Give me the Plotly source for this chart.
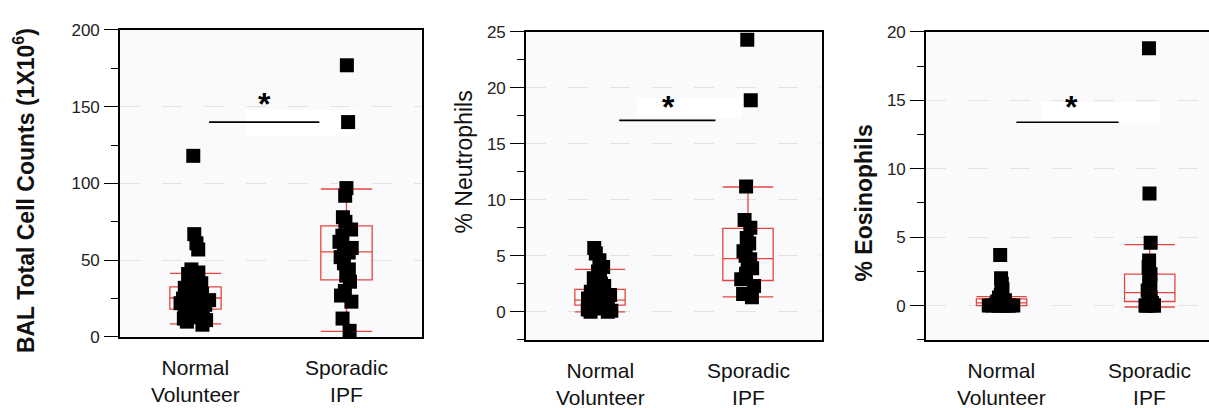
import plotly.graph_objects as go

# ---- data -------------------------------------------------------------
groups = ["Normal<br>Volunteer", "Sporadic<br>IPF"]

# BAL total cell counts (x10^6)
bal_normal = [118, 67, 61, 57, 44, 42, 41, 39, 37, 35, 34, 33, 32, 31, 30,
              28, 27, 26, 25, 25, 24, 23, 22, 21, 20, 19, 18, 17, 16, 15,
              14, 13, 12, 11, 10, 8]
bal_ipf = [177, 140, 97, 92, 78, 75, 70, 66, 62, 58, 56, 55, 52, 48, 44,
           40, 36, 30, 27, 23, 12, 4]

# % neutrophils
neu_normal = [5.7, 5.2, 4.6, 4.0, 3.6, 3.3, 3.0, 2.7, 2.5, 2.3, 2.1, 1.9,
              1.8, 1.6, 1.5, 1.3, 1.2, 1.1, 1.0, 0.9, 0.8, 0.7, 0.6, 0.5,
              0.4, 0.3, 0.2, 0.1, 0.0, 0.0]
neu_ipf = [24.3, 18.9, 11.2, 8.2, 7.5, 6.6, 6.1, 5.4, 5.0, 4.7, 4.3, 3.9,
           3.4, 2.9, 2.3, 1.6, 1.3]

# % eosinophils
eos_normal = [3.7, 2.0, 1.6, 1.2, 1.0, 0.8, 0.6, 0.5, 0.4, 0.3, 0.3, 0.2,
              0.2, 0.1, 0.1, 0, 0, 0, 0, 0, 0, 0, 0, 0]
eos_ipf = [18.8, 8.2, 4.6, 3.3, 2.8, 2.3, 1.9, 1.5, 1.1, 0.9, 0.6, 0.4,
           0.2, 0, 0, 0, 0, 0]

# box summaries per group: lower whisker, Q1, median, Q3, upper whisker
bal_box = [[8.5, 18.2, 25.4, 32.7, 41.4], [3.7, 37.2, 55.4, 72.4, 96.4]]
neu_box = [[0.0, 0.6, 1.05, 2.0, 3.8], [1.33, 2.8, 4.75, 7.45, 11.15]]
eos_box = [[0.0, 0.0, 0.2, 0.5, 0.65], [-0.1, 0.3, 0.95, 2.3, 4.45]]

y_titles = ["<b>BAL Total Cell Counts (1X10<sup>6</sup>)</b>",
            "% Neutrophils",
            "<b>% Eosinophils</b>"]
sig_label = "*"

# ---- figure layout constants -----------------------------------------
W, H = 1209, 408
RED = "#e8453c"
FONT = "Liberation Sans, Arial, sans-serif"
JITTER = [0.6, 0.32]   # sideways spread for each group's points

panels = [
    dict(vals=[bal_normal, bal_ipf], box=bal_box, yrange=[0, 200], dtick=50,
         xrange=[-0.5, 1.5], px=(120, 422), py=(22, 344), mirror_y=True,
         title_xy=(24, 191),
         sig=dict(x0=0.09, x1=0.82, y=140, sx=0.46, sy=151.5,
                  patch=(0.33, 1.06, 131, 148))),
    dict(vals=[neu_normal, neu_ipf], box=neu_box, yrange=[-2.5, 25], dtick=5,
         xrange=[-0.5, 1.5], px=(526, 822), py=(24, 347), mirror_y=True,
         title_xy=(464, 161),
         sig=dict(x0=0.13, x1=0.78, y=17.1, sx=0.466, sy=18.3,
                  patch=(0.25, 0.96, 17.3, 19.1))),
    dict(vals=[eos_normal, eos_ipf], box=eos_box, yrange=[-2.5, 20], dtick=5,
         xrange=[-0.51, 1.40], px=(926, 1209), py=(24, 347), mirror_y=False,
         title_xy=(863, 204),
         sig=dict(x0=0.10, x1=0.79, y=13.4, sx=0.47, sy=14.5,
                  patch=(0.27, 1.07, 13.3, 14.9))),
]

fig = go.Figure()
shapes, annotations = [], []
layout = dict(
    width=W, height=H, margin=dict(l=0, r=0, t=0, b=0),
    paper_bgcolor="white", plot_bgcolor="#fafafd",
    showlegend=False, boxmode="overlay",
    font=dict(family=FONT, color="#111"),
)

for k, p in enumerate(panels):
    sfx = "" if k == 0 else str(k + 1)
    xa, ya = "x" + sfx, "y" + sfx

    for i, (vals, st) in enumerate(zip(p["vals"], p["box"])):
        lo, q1, med, q3, hi = st
        # outlined box with capped whiskers
        fig.add_trace(go.Box(
            x=[i], q1=[q1], median=[med], q3=[q3],
            lowerfence=[lo], upperfence=[hi],
            width=0.34, whiskerwidth=1, boxpoints=False,
            line=dict(color=RED, width=1.3), fillcolor="rgba(0,0,0,0)",
            xaxis=xa, yaxis=ya, hoverinfo="skip",
        ))
        # individual subjects, jittered sideways
        fig.add_trace(go.Box(
            x=[i] * len(vals), y=vals,
            boxpoints="all", jitter=JITTER[i], pointpos=0, width=0.34,
            whiskerwidth=0,
            line=dict(width=0, color="rgba(0,0,0,0)"),
            fillcolor="rgba(0,0,0,0)",
            marker=dict(symbol="square", size=14, color="black",
                        line=dict(width=0)),
            xaxis=xa, yaxis=ya,
        ))

    x0p, x1p = p["px"]
    y0p, y1p = p["py"]
    layout["xaxis" + sfx] = dict(
        domain=[x0p / W, x1p / W], range=p["xrange"], anchor=ya,
        showline=True, linecolor="black", linewidth=1.6, mirror=True,
        showgrid=False, zeroline=False, showticklabels=False, ticks="",
    )
    layout["yaxis" + sfx] = dict(
        domain=[1 - y1p / H, 1 - y0p / H], range=p["yrange"], anchor=xa,
        tickmode="linear", tick0=0, dtick=p["dtick"],
        ticks="outside", ticklen=14, tickwidth=1.3, tickcolor="black",
        ticklabelstandoff=1,
        tickfont=dict(family=FONT, size=17, color="#222"),
        minor=dict(dtick=p["dtick"] / 2, ticks="outside", ticklen=7,
                   tickwidth=1.3, tickcolor="black", showgrid=False),
        showline=True, linecolor="black", linewidth=1.6,
        mirror=p["mirror_y"],
        showgrid=True, gridcolor="#e3e3e3", gridwidth=1,
        griddash="20px,22px", zeroline=False,
    )

    # axis title
    tx, ty = p["title_xy"]
    annotations.append(dict(
        text=y_titles[k], x=tx / W, y=1 - ty / H, xref="paper", yref="paper",
        textangle=-90, showarrow=False, xanchor="center", yanchor="middle",
        font=dict(family=FONT, size=23, color="#111"),
    ))

    # two-line category labels under each group
    for i, label in enumerate(groups):
        annotations.append(dict(
            text=label, x=i, xref=xa, yref="paper",
            y=1 - (y1p + 46) / H,
            showarrow=False, xanchor="center", yanchor="middle",
            font=dict(family=FONT, size=21, color="#111"),
        ))

    # significance bracket
    s = p["sig"]
    px0, px1, py0, py1 = s["patch"]
    shapes.append(dict(type="rect", xref=xa, yref=ya, x0=px0, x1=px1,
                       y0=py0, y1=py1, fillcolor="white",
                       line=dict(width=0), layer="between"))
    shapes.append(dict(type="line", xref=xa, yref=ya, x0=s["x0"], x1=s["x1"],
                       y0=s["y"], y1=s["y"],
                       line=dict(color="black", width=1.6)))
    annotations.append(dict(
        text="<b>" + sig_label + "</b>", x=s["sx"], y=s["sy"], xref=xa, yref=ya,
        showarrow=False, xanchor="center", yanchor="middle",
        font=dict(family=FONT, size=32, color="black"),
    ))

layout["shapes"] = shapes
layout["annotations"] = annotations
fig.update_layout(**layout)

fig.write_html("out.html")
